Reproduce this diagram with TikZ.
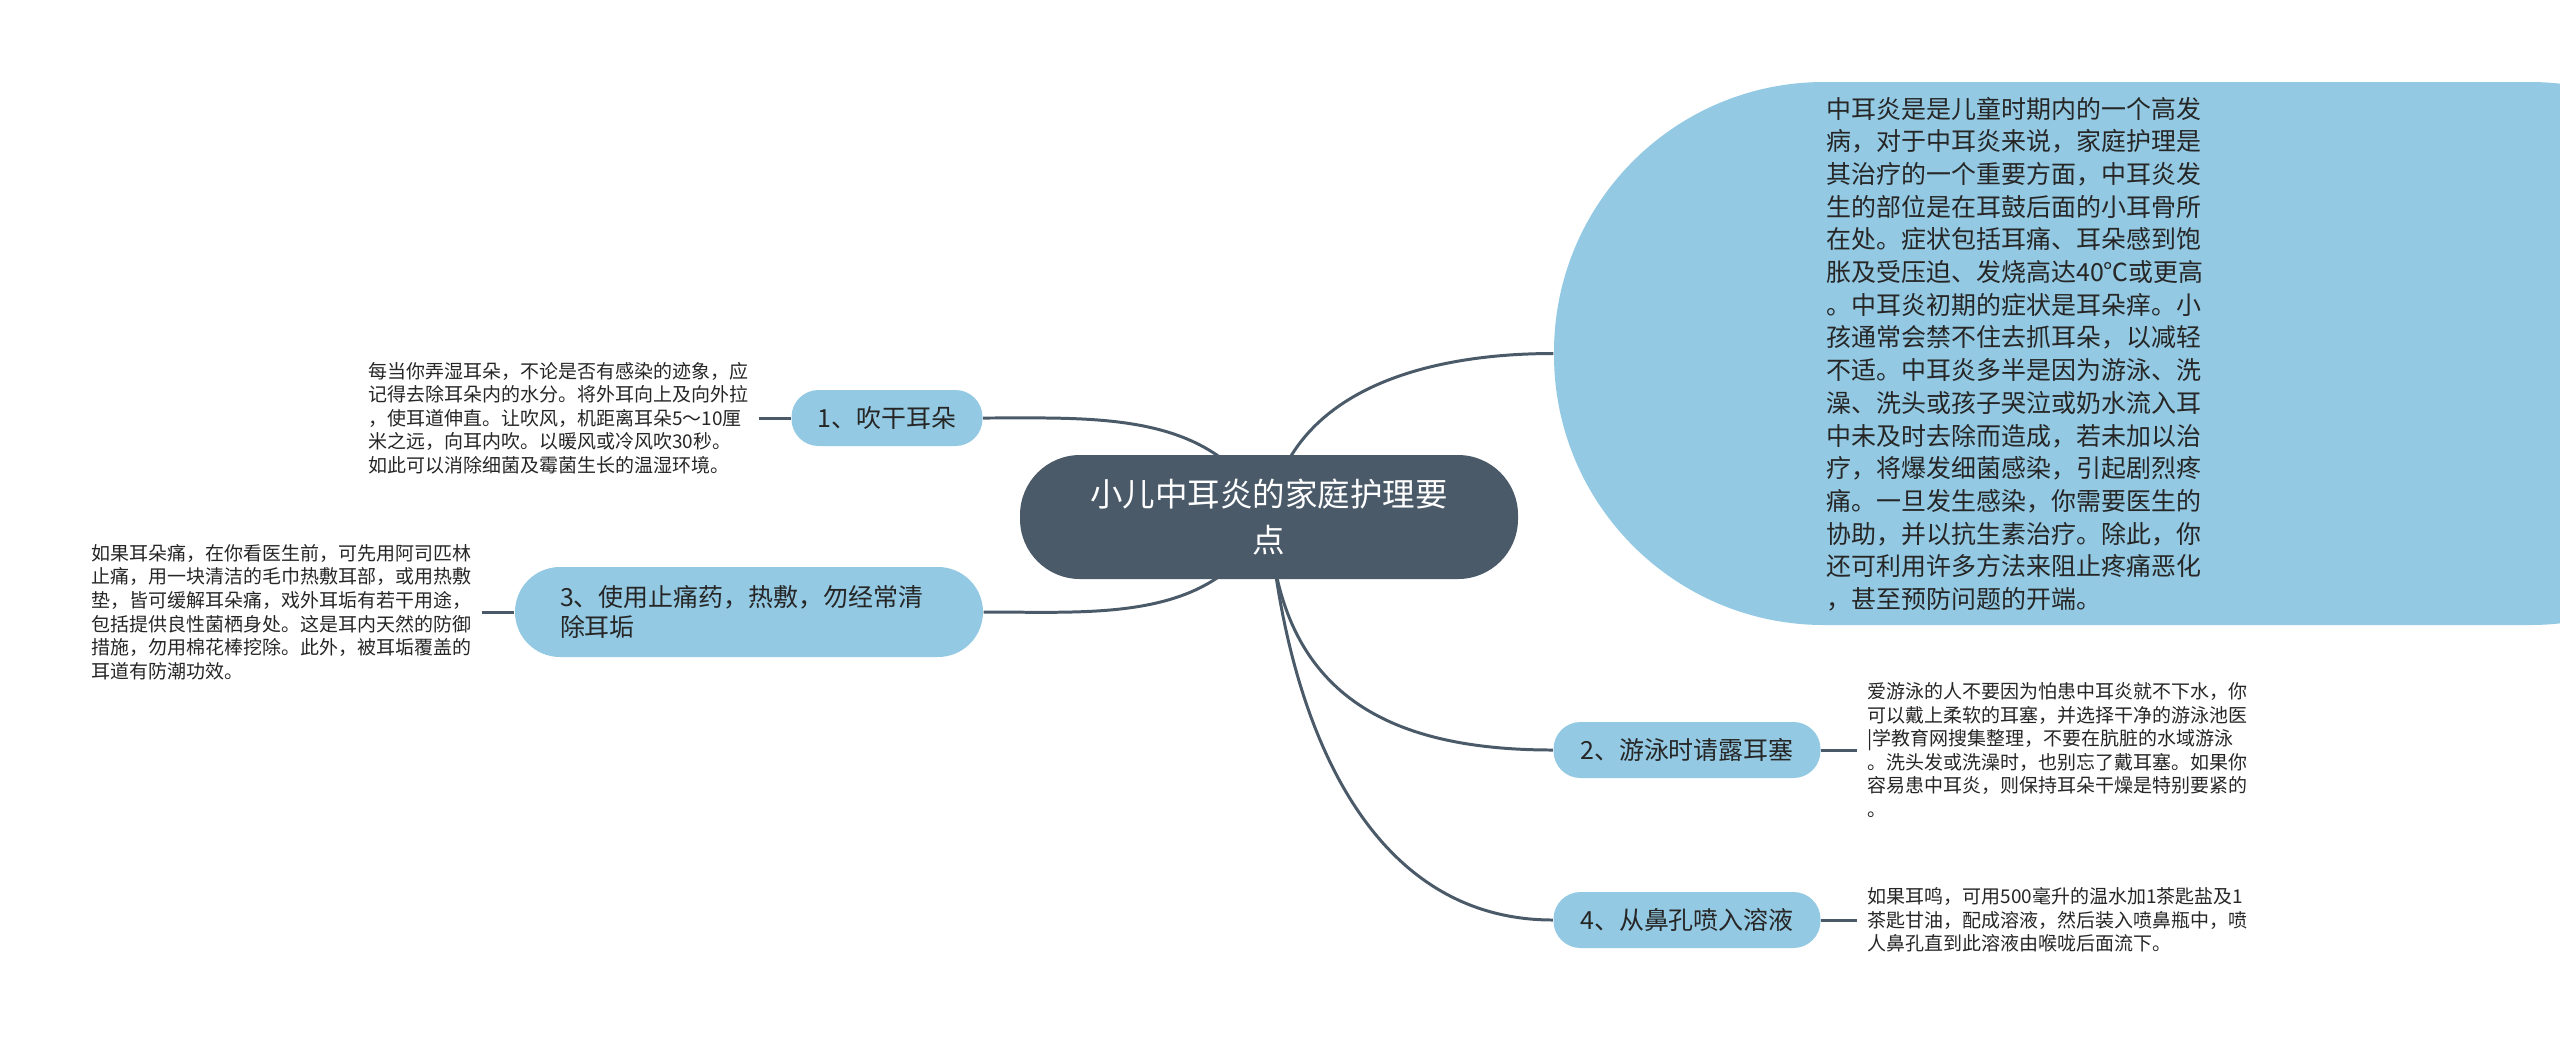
\documentclass[tikz,border=0pt]{standalone}
\usepackage{fontspec}
\setmainfont{Noto Sans CJK SC}
\usepackage{tikz}
\usetikzlibrary{backgrounds}

\definecolor{rootgray}{HTML}{4A5A69}
\definecolor{topicblue}{HTML}{93C9E2}
\definecolor{linkgray}{HTML}{4A5A69}
\definecolor{notetext}{HTML}{262626}

\tikzset{
  rootbox/.style={fill=rootgray, text=white, rounded corners=.6cm, minimum width=4.98cm, minimum height=1.24cm, align=center, inner sep=0, font=\fontsize{9.25pt}{13.1pt}\selectfont},
  topicbox/.style={fill=topicblue, text=notetext, minimum height=.56cm, rounded corners=.27cm, inner sep=0, font=\fontsize{7.1pt}{8.8pt}\selectfont},
  introbox/.style={fill=topicblue, minimum width=12.46cm, minimum height=5.43cm, rounded corners=2.7cm, inner sep=0},
  introtext/.style={text=notetext, align=left, inner sep=0, font=\fontsize{7.1pt}{9.3pt}\selectfont},
  leaftext/.style={text=notetext, align=left, inner xsep=.1cm, inner ysep=0, font=\fontsize{5.4pt}{6.7pt}\selectfont},
  linkline/.style={draw=linkgray, line width=.85pt},
}

\begin{document}
\begin{tikzpicture}
\useasboundingbox (0,0) rectangle (25.6,-10.47);

\node[rootbox] (root) at (12.69,-5.17) {小儿中耳炎的家庭护理要\\点};

% intro bubble, its text laid on top
\node[introbox] (intro) at (21.77,-3.535) {};
\node[introtext, anchor=west] (introtxt) at (18.26,-3.54) {中耳炎是是儿童时期内的一个高发\\病，对于中耳炎来说，家庭护理是\\其治疗的一个重要方面，中耳炎发\\生的部位是在耳鼓后面的小耳骨所\\在处。症状包括耳痛、耳朵感到饱\\胀及受压迫、发烧高达40℃或更高\\。中耳炎初期的症状是耳朵痒。小\\孩通常会禁不住去抓耳朵，以减轻\\不适。中耳炎多半是因为游泳、洗\\澡、洗头或孩子哭泣或奶水流入耳\\中未及时去除而造成，若未加以治\\疗，将爆发细菌感染，引起剧烈疼\\痛。一旦发生感染，你需要医生的\\协助，并以抗生素治疗。除此，你\\还可利用许多方法来阻止疼痛恶化\\，甚至预防问题的开端。};

\node[topicbox, minimum width=1.91cm] (t1) at (8.87,-4.18) {1、吹干耳朵};
\node[topicbox, minimum width=4.68cm, minimum height=.9cm, rounded corners=.45cm, text width=3.78cm, align=left] (t3) at (7.49,-6.12) {3、使用止痛药，热敷，勿经常清\\除耳垢};
\node[topicbox, minimum width=2.67cm] (t2) at (16.87,-7.50) {2、游泳时请露耳塞};
\node[topicbox, minimum width=2.67cm] (t4) at (16.87,-9.20) {4、从鼻孔喷入溶液};

\node[leaftext, anchor=west] (n1) at (3.58,-4.18) {每当你弄湿耳朵，不论是否有感染的迹象，应\\记得去除耳朵内的水分。将外耳向上及向外拉\\，使耳道伸直。让吹风，机距离耳朵5～10厘\\米之远，向耳内吹。以暖风或冷风吹30秒。\\如此可以消除细菌及霉菌生长的温湿环境。};
\node[leaftext, anchor=west] (n3) at (0.81,-6.12) {如果耳朵痛，在你看医生前，可先用阿司匹林\\止痛，用一块清洁的毛巾热敷耳部，或用热敷\\垫，皆可缓解耳朵痛，戏外耳垢有若干用途，\\包括提供良性菌栖身处。这是耳内天然的防御\\措施，勿用棉花棒挖除。此外，被耳垢覆盖的\\耳道有防潮功效。};
\node[leaftext, anchor=west] (n2) at (18.57,-7.50) {爱游泳的人不要因为怕患中耳炎就不下水，你\\可以戴上柔软的耳塞，并选择干净的游泳池医\\|学教育网搜集整理，不要在肮脏的水域游泳\\。洗头发或洗澡时，也别忘了戴耳塞。如果你\\容易患中耳炎，则保持耳朵干燥是特别要紧的\\。};
\node[leaftext, anchor=west] (n4) at (18.57,-9.20) {如果耳鸣，可用500毫升的温水加1茶匙盐及1\\茶匙甘油，配成溶液，然后装入喷鼻瓶中，喷\\人鼻孔直到此溶液由喉咙后面流下。};

\draw[linkline] (n1.east) -- (t1.west);
\draw[linkline] (n3.east) -- (t3.west);
\draw[linkline] (t2.east) -- (n2.west);
\draw[linkline] (t4.east) -- (n4.west);

\begin{pgfonlayer}{background}
\draw[linkline] (root.center) edge[out=116,in=0] (t1.east);
\draw[linkline] (root.center) edge[out=244,in=0] (t3.east);
\draw[linkline] (root.center) edge[out=81,in=180] (intro.west);
\draw[linkline] (root.center) edge[out=273,in=180,looseness=1.2] (t2.west);
\draw[linkline] (root.center) edge[out=275,in=180,looseness=1.0] (t4.west);
\end{pgfonlayer}

\end{tikzpicture}
\end{document}
